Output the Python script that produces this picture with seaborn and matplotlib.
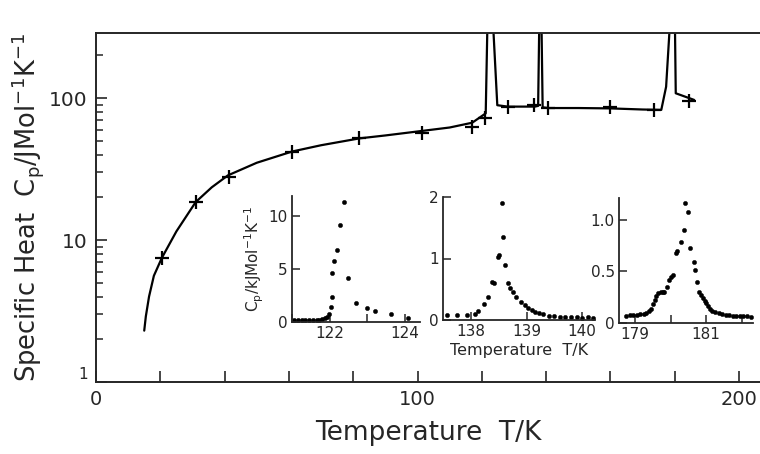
import numpy as np
import pandas as pd
import seaborn as sns
import matplotlib.pyplot as plt
from matplotlib.ticker import FixedLocator, FixedFormatter, LogLocator, NullFormatter

# main curve (smoothed)
curve_T = [15.0, 15.5, 16.5, 18.0, 20.5, 25.0, 31.0, 36.0, 41.0, 50.0, 61.0, 70.0,
           82.0, 90.0, 101.0, 110.0, 117.0, 121.2, 121.8, 123.3, 124.8, 128.0,
           136.5, 137.5, 137.9, 138.5, 138.9, 140.7, 150.0, 160.0, 170.0, 175.8,
           177.3, 178.7, 180.0, 180.3, 186.0]
curve_cp = [2.3, 2.9, 4.0, 5.6, 7.5, 11.5, 18.5, 23.5, 28.5, 35.0, 42.0, 46.5,
            52.0, 54.5, 58.5, 62.0, 67.0, 78.0, 400.0, 400.0, 89.0, 87.0,
            87.0, 88.0, 400.0, 400.0, 86.0, 85.0, 85.0, 84.5, 83.0, 82.5,
            120.0, 400.0, 400.0, 108.0, 97.0]

# measured points (+)
pts_T = [20.5, 31.0, 41.3, 61.0, 81.7, 101.5, 117.0, 121.0, 128.0, 136.2,
         140.7, 160.0, 173.6, 184.5]
pts_cp = [7.5, 18.5, 28.0, 41.7, 52.0, 56.7, 62.5, 72.3, 87.0, 90.0,
          85.0, 86.0, 82.0, 96.0]

# inset 1: around 122 K
in1_T = [121.05, 121.15, 121.25, 121.35, 121.45, 121.55, 121.65, 121.72, 121.8,
         121.86, 121.92, 121.97, 122.03, 122.07, 122.07, 122.1, 122.19, 122.27,
         122.37, 122.48, 122.7, 122.99, 123.2, 123.63, 124.1]
in1_cp = [0.15, 0.15, 0.15, 0.15, 0.15, 0.15, 0.18, 0.2, 0.25, 0.35, 0.5, 0.8,
          1.4, 2.4, 4.6, 5.8, 6.8, 9.2, 11.3, 4.2, 1.8, 1.3, 1.0, 0.75, 0.4]

# inset 2: around 138.5 K
in2_T = [137.58, 137.76, 137.93, 138.07, 138.13, 138.24, 138.3, 138.38, 138.42,
         138.49, 138.51, 138.58, 138.56, 138.62, 138.67, 138.7, 138.76, 138.82,
         138.9, 138.97, 139.03, 139.1, 139.16, 139.22, 139.3, 139.4, 139.5,
         139.6, 139.7, 139.8, 139.9, 140.0, 140.1, 140.2]
in2_cp = [0.08, 0.08, 0.08, 0.09, 0.15, 0.26, 0.37, 0.62, 0.6, 1.02, 1.05, 1.35,
          1.9, 0.9, 0.6, 0.52, 0.45, 0.37, 0.29, 0.24, 0.2, 0.16, 0.13, 0.11,
          0.09, 0.07, 0.06, 0.05, 0.05, 0.05, 0.05, 0.04, 0.05, 0.04]

# inset 3: around 180.4 K
in3_T = [178.75, 178.85, 178.95, 179.05, 179.15, 179.25, 179.32, 179.38, 179.45,
         179.5, 179.55, 179.6, 179.66, 179.72, 179.78, 179.83, 179.9, 179.97,
         180.02, 180.08, 180.14, 180.17, 180.3, 180.37, 180.42, 180.5, 180.56,
         180.67, 180.7, 180.75, 180.8, 180.86, 180.92, 180.96, 181.0, 181.05,
         181.1, 181.17, 181.24, 181.35, 181.45, 181.55, 181.65, 181.75, 181.85,
         181.95, 182.05, 182.15, 182.25]
in3_cp = [0.07, 0.08, 0.08, 0.08, 0.09, 0.09, 0.1, 0.12, 0.14, 0.18, 0.22, 0.26,
          0.29, 0.3, 0.3, 0.3, 0.35, 0.42, 0.45, 0.46, 0.68, 0.7, 0.78, 0.9,
          1.16, 1.07, 0.73, 0.59, 0.51, 0.4, 0.3, 0.27, 0.24, 0.21, 0.19, 0.16,
          0.14, 0.12, 0.11, 0.1, 0.09, 0.08, 0.08, 0.07, 0.07, 0.07, 0.07,
          0.07, 0.06]

sns.set_style("ticks")
plt.rcParams['font.family'] = ['DejaVu Sans']
plt.rcParams['mathtext.fontset'] = 'dejavusans'

fig = plt.figure(figsize=(7.6, 4.54), dpi=100)
ax = fig.add_axes([96 / 760, 1 - 382 / 454, 1 - 96 / 760, (382 - 33) / 454])

sns.lineplot(x=curve_T, y=curve_cp, sort=False, estimator=None, color='black',
             linewidth=1.6, ax=ax)
sns.scatterplot(x=pts_T, y=pts_cp, marker='+', s=110, color='black',
                linewidth=1.6, ax=ax)

ax.set_yscale('log')
ax.set_xlim(0, 206.5)
ax.set_ylim(1, 287)
ax.spines['right'].set_visible(False)
for s in ['left', 'bottom', 'top']:
    ax.spines[s].set_linewidth(1.4)

ax.xaxis.set_major_locator(FixedLocator(np.arange(0, 201, 20)))
ax.xaxis.set_major_formatter(FixedFormatter(['0', '', '', '', '', '100', '', '', '', '', '200']))
ax.yaxis.set_major_locator(FixedLocator([1, 10, 100]))
ax.yaxis.set_major_formatter(FixedFormatter(['1', '10', '100']))
ax.yaxis.set_minor_locator(LogLocator(base=10, subs=np.arange(2, 10)))
ax.yaxis.set_minor_formatter(NullFormatter())
ax.tick_params(axis='both', which='major', direction='in', length=8, width=1.2,
               labelsize=14.5, pad=6)
ax.tick_params(axis='x', which='major', labelsize=14)
ax.tick_params(axis='y', which='minor', direction='in', length=5, width=1.1)
ax.tick_params(axis='x', which='minor', bottom=False)
ax.set_xlabel('Temperature  T/K', fontsize=19, labelpad=8)
ax.set_ylabel('Specific Heat  C$_\\mathregular{p}$/JMol$^{-1}$K$^{-1}$', fontsize=18.5,
              labelpad=2)

# the "1" at the corner is printed small
fig.canvas.draw()
ylabs = ax.get_yticklabels()
ylabs[0].set_fontsize(11)
ylabs[0].set_verticalalignment('bottom')


def make_inset(rect, T, cp, xlim, ylim, xticks, xlabels, yticks, ylabels):
    a = fig.add_axes(rect)
    sns.scatterplot(x=T, y=cp, s=10, color='black', edgecolor='black', ax=a)
    a.set_xlim(*xlim)
    a.set_ylim(*ylim)
    a.spines['top'].set_visible(False)
    a.spines['right'].set_visible(False)
    a.spines['left'].set_linewidth(1.3)
    a.spines['bottom'].set_linewidth(1.3)
    a.xaxis.set_major_locator(FixedLocator(xticks))
    a.xaxis.set_major_formatter(FixedFormatter(xlabels))
    a.yaxis.set_major_locator(FixedLocator(yticks))
    a.yaxis.set_major_formatter(FixedFormatter(ylabels))
    a.tick_params(direction='in', length=6, width=1.1, labelsize=11, pad=3)
    a.patch.set_alpha(0)
    return a


W, H = 760, 454
a1 = make_inset([292 / W, 1 - 322 / H, 128 / W, 126 / H], in1_T, in1_cp,
                (120.99, 124.41), (0, 11.9), [121, 122, 123, 124],
                ['', '122', '', '124'], [0, 5, 10], ['0', '5', '10'])
a1.set_ylabel('C$_\\mathregular{p}$/kJMol$^{-1}$K$^{-1}$', fontsize=11, labelpad=2)

a2 = make_inset([443 / W, 1 - 320 / H, 152 / W, 123 / H], in2_T, in2_cp,
                (137.5, 140.23), (0, 2.0), [138, 139, 140],
                ['138', '139', '140'], [0, 1, 2], ['0', '1', '2'])
a2.set_xlabel('Temperature  T/K', fontsize=11.5, labelpad=3)

a3 = make_inset([619 / W, 1 - 323 / H, 134 / W, 125 / H], in3_T, in3_cp,
                (178.55, 182.32), (0, 1.21), [179, 180, 181, 182],
                ['179', '', '181', ''], [0, 0.5, 1.0], ['0', '0.5', '1.0'])

fig.savefig('out.png', dpi=100)
